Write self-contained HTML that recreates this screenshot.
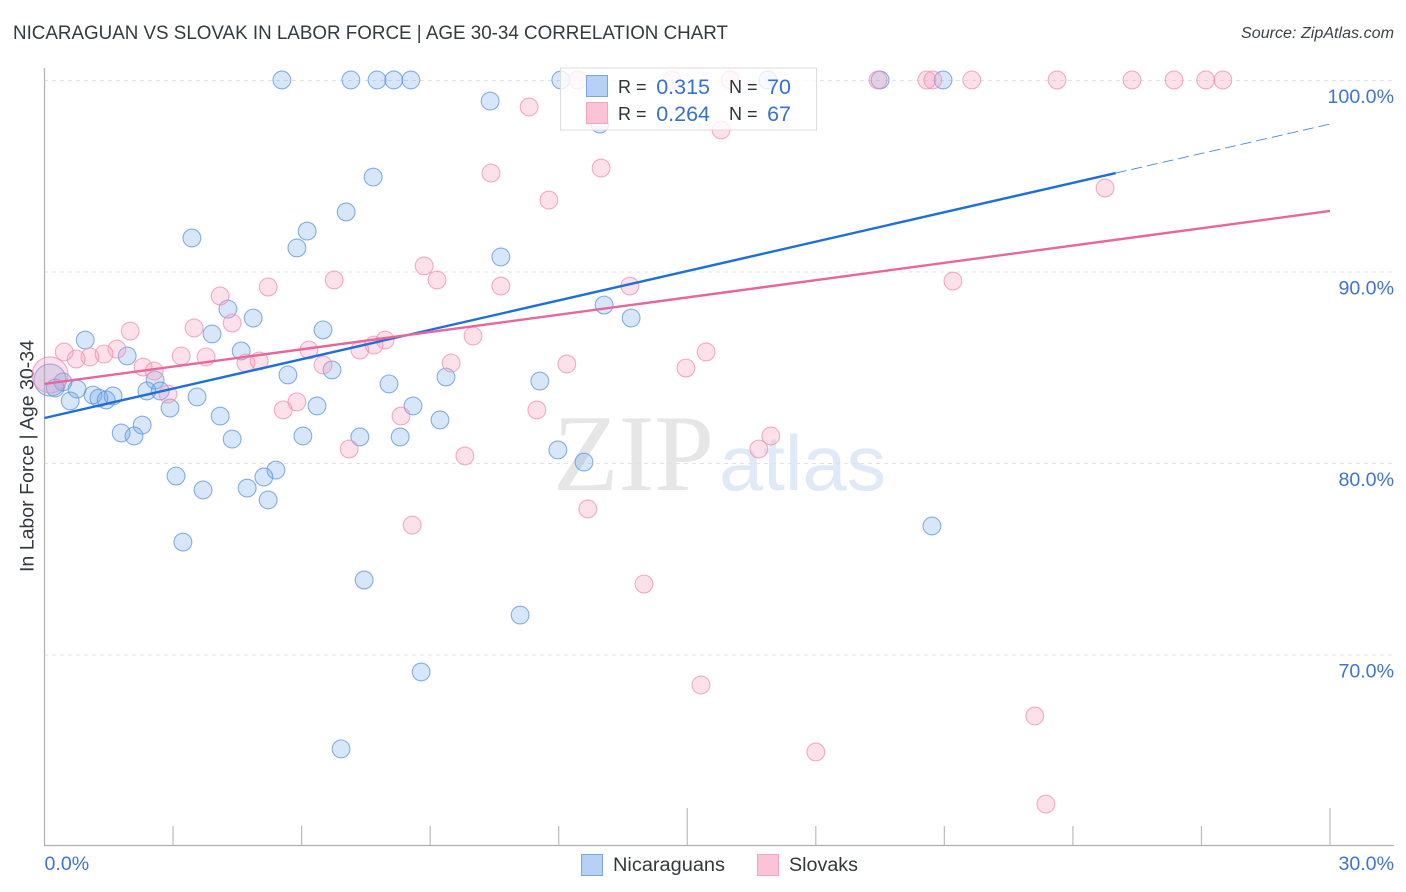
<!DOCTYPE html>
<html lang="en">
<head>
<meta charset="utf-8">
<title>Nicaraguan vs Slovak in Labor Force | Age 30-34 Correlation Chart</title>
<style>
html,body{margin:0;padding:0;background:#fff;}
svg{display:block;font-family:"Liberation Sans",sans-serif;}
</style>
</head>
<body>
<svg id="chart" xmlns="http://www.w3.org/2000/svg" width="1406" height="892" viewBox="0 0 1406 892">
  <rect x="0" y="0" width="1406" height="892" fill="#ffffff"/>
  <text x="13" y="39" font-size="19.5" fill="#333a40" textLength="715" lengthAdjust="spacingAndGlyphs">NICARAGUAN VS SLOVAK IN LABOR FORCE | AGE 30-34 CORRELATION CHART</text>
  <text x="1241" y="38" font-size="15.5" font-style="italic" fill="#3c4248" textLength="153" lengthAdjust="spacingAndGlyphs">Source: ZipAtlas.com</text>

  <g>
    <text x="553" y="490" font-family="'Liberation Serif',serif" font-size="109" fill="#e6e6e6" textLength="161" lengthAdjust="spacingAndGlyphs">ZIP</text>
    <text x="719" y="490" font-size="78" fill="#dfe9f8" textLength="167" lengthAdjust="spacingAndGlyphs">atlas</text>
  </g>

  <g id="grid"></g>
  <g id="axes">
    <line x1="44.5" y1="68" x2="44.5" y2="845" stroke="#b0b0b0" stroke-width="1.2"/>
    <line x1="44" y1="845.5" x2="1394" y2="845.5" stroke="#b0b0b0" stroke-width="1.2"/>
  </g>
  <g id="x-ticks"></g>
  <g id="y-labels"></g>
  <g id="x-labels"></g>
  <text transform="translate(33.5,456) rotate(-90)" font-size="19" fill="#33383d" text-anchor="middle" textLength="232" lengthAdjust="spacingAndGlyphs">In Labor Force | Age 30-34</text>

  <g id="points-nicaraguans"></g>
  <g id="points-slovaks"></g>
  <g id="trends"></g>

  <g>
    <rect x="560.5" y="68" width="256" height="62" fill="#ffffff" fill-opacity="0.78" stroke="#dcdcdc" stroke-width="1"/>
    <rect x="586.5" y="75.5" width="21" height="21" fill="#b5d2f6" stroke="#79a6e2" stroke-width="1"/>
    <rect x="586.5" y="102.5" width="21" height="21" fill="#fcc3d6" stroke="#f3a6c0" stroke-width="1"/>
    <text x="618" y="93" font-size="18" fill="#2f3338">R =</text>
    <text x="710" y="94" font-size="21.5" fill="#3571d2" text-anchor="end">0.315</text>
    <text x="729" y="93" font-size="18" fill="#2f3338">N =</text>
    <text x="791" y="94" font-size="21.5" fill="#3571d2" text-anchor="end">70</text>
    <text x="618" y="120" font-size="18" fill="#2f3338">R =</text>
    <text x="710" y="121" font-size="21.5" fill="#3571d2" text-anchor="end">0.264</text>
    <text x="729" y="120" font-size="18" fill="#2f3338">N =</text>
    <text x="791" y="121" font-size="21.5" fill="#3571d2" text-anchor="end">67</text>
  </g>

  <g>
    <rect x="581.5" y="854.5" width="21" height="21" fill="#b5d2f6" stroke="#79a6e2" stroke-width="1"/>
    <text x="613" y="871" font-size="19" fill="#33383d" textLength="112" lengthAdjust="spacingAndGlyphs">Nicaraguans</text>
    <rect x="757.5" y="854.5" width="21" height="21" fill="#fcc3d6" stroke="#f3a6c0" stroke-width="1"/>
    <text x="789" y="871" font-size="19" fill="#33383d" textLength="69" lengthAdjust="spacingAndGlyphs">Slovaks</text>
  </g>
</svg>
<script>
// Data values (percent). The first point of each series is the large weighted marker.
const nicaraguansX = [0.13,5.54,7.15,7.76,8.15,8.55,12.05,16.88,19.50,20.97,10.40,12.96,7.67,7.04,6.13,3.44,5.89,10.65,13.06,4.28,13.69,4.87,6.50,3.91,0.95,4.59,1.93,5.68,6.71,2.58,8.04,9.37,11.56,0.43,0.25,0.76,2.39,2.70,3.56,1.13,1.27,1.44,1.60,0.60,2.93,4.10,6.36,8.60,9.23,2.28,1.79,2.09,4.38,6.03,7.36,8.30,11.98,12.59,5.40,5.12,3.07,4.73,3.70,5.22,3.23,20.71,7.46,11.10,8.79,6.92];
const nicaraguansY = [84.33,100,100,100,100,100,100,100,100,100,98.90,97.70,94.93,93.11,92.11,91.75,91.23,90.76,88.25,88.04,87.57,87.57,86.95,86.74,86.42,85.85,85.59,84.60,84.86,84.33,84.13,84.49,84.28,84.23,83.92,83.86,83.76,83.76,83.45,83.55,83.39,83.29,83.50,83.24,82.87,82.45,82.98,82.98,82.25,81.98,81.57,81.41,81.25,81.41,81.36,81.36,80.68,80.05,79.63,79.27,79.32,78.69,78.59,78.07,75.87,76.71,73.89,72.06,69.09,65.07];
const slovaksX = [0.13,12.45,14.64,16.00,19.45,20.59,20.73,21.64,23.63,25.38,26.36,27.10,27.50,11.31,15.79,12.99,10.42,24.75,11.77,8.86,6.76,9.16,21.20,10.65,13.66,5.22,4.10,4.38,3.49,2.00,10.00,7.95,7.69,7.36,6.17,1.69,0.46,1.06,0.74,1.39,3.19,3.77,15.44,9.49,12.19,4.70,5.01,6.50,14.97,2.30,2.56,2.88,5.89,5.57,8.32,11.49,16.95,16.67,7.11,9.81,12.68,8.58,13.99,15.32,23.11,18.00,23.37];
const slovaksY = [84.60,100,100,100,100,100,100,100,100,100,100,100,100,98.59,97.39,95.40,95.14,94.36,93.73,90.29,89.56,89.56,89.50,89.24,89.24,89.19,88.72,87.31,87.05,86.89,86.63,86.42,86.16,85.90,85.90,85.95,85.80,85.54,85.43,85.69,85.59,85.54,85.80,85.22,85.17,85.22,85.33,85.12,84.96,85.01,84.80,83.60,83.19,82.77,82.45,82.77,81.41,80.73,80.73,80.37,77.60,76.76,73.68,68.41,66.79,64.91,62.19];
const nicaraguansTrendX = [0, 25, 30];
const nicaraguansTrendY = [82.35, 95.14, 97.70];
const slovaksTrendX = [0, 30];
const slovaksTrendY = [84.13, 93.16];
const yTicks = [100, 90, 80, 70];
const yTickLabels = ["100.0%", "90.0%", "80.0%", "70.0%"];
const xMinorTicks = [0, 3, 6, 9, 12, 15, 18, 21, 24, 27, 30];
const xMajorTicks = [0, 15, 30];
const xEndTicks = [0, 30];
const xEndLabels = ["0.0%", "30.0%"];

const xScale = v => 44.5 + v * 42.85;
const yScale = v => 80 + (100 - v) * 19.15;
const NS = "http://www.w3.org/2000/svg";
const make = (tag, parent, attrs) => {
  const el = document.createElementNS(NS, tag);
  for (const k in attrs) el.setAttribute(k, attrs[k]);
  document.getElementById(parent).appendChild(el);
  return el;
};

yTicks.forEach((t, i) => {
  const g = make("line", "grid", {x1: 44, x2: 1394, y1: yScale(t) + 0.5, y2: yScale(t) + 0.5, stroke: "#e2e2e2", "stroke-width": 1, "stroke-dasharray": "4 4"});
  
  
  const l = make("text", "y-labels", {x: 1394, y: yScale(t) + 23, "font-size": 19.6, fill: "#3f74d2", "text-anchor": "end"});
  l.textContent = yTickLabels[i];
  
  
});

xMinorTicks.forEach(t => {
  if (t === 0) return;
  const top = xMajorTicks.includes(t) ? 808 : 826;
  const m = make("line", "x-ticks", {x1: xScale(t), x2: xScale(t), y1: top, y2: 845, stroke: "#bcbcbc", "stroke-width": 1.2});
  
  
});

xEndTicks.forEach((t, i) => {
  const l = make("text", "x-labels", {x: i === 0 ? xScale(t) : 1394, y: 870, "font-size": 19.6, fill: "#3f74d2", "text-anchor": i === 0 ? "start" : "end"});
  l.textContent = xEndLabels[i];
  
  
});

nicaraguansX.forEach((x, i) => {
  const c = make("circle", "points-nicaraguans", {cx: xScale(x), cy: yScale(nicaraguansY[i]), r: i === 0 ? 16 : 8.9, fill: "#6aa3ea", "fill-opacity": 0.27, stroke: "#5c93dc", "stroke-opacity": 0.72, "stroke-width": 1.1});
  
  
});

slovaksX.forEach((x, i) => {
  const c = make("circle", "points-slovaks", {cx: xScale(x), cy: yScale(slovaksY[i]), r: i === 0 ? 18 : 8.9, fill: "#f79aba", "fill-opacity": 0.3, stroke: "#f08eb0", "stroke-opacity": 0.72, "stroke-width": 1.1});
  
  
});

const solid = make("line", "trends", {x1: xScale(nicaraguansTrendX[0]), y1: yScale(nicaraguansTrendY[0]), x2: xScale(nicaraguansTrendX[1]), y2: yScale(nicaraguansTrendY[1]), stroke: "#1e6fd9", "stroke-width": 2.4});



const dashed = make("line", "trends", {x1: xScale(nicaraguansTrendX[1]), y1: yScale(nicaraguansTrendY[1]), x2: xScale(nicaraguansTrendX[2]), y2: yScale(nicaraguansTrendY[2]), stroke: "#4d88dc", "stroke-width": 0.9, "stroke-dasharray": "11 5"});



const pinkLine = make("line", "trends", {x1: xScale(slovaksTrendX[0]), y1: yScale(slovaksTrendY[0]), x2: xScale(slovaksTrendX[1]), y2: yScale(slovaksTrendY[1]), stroke: "#e8679a", "stroke-width": 2.4});


</script>
</body>
</html>
